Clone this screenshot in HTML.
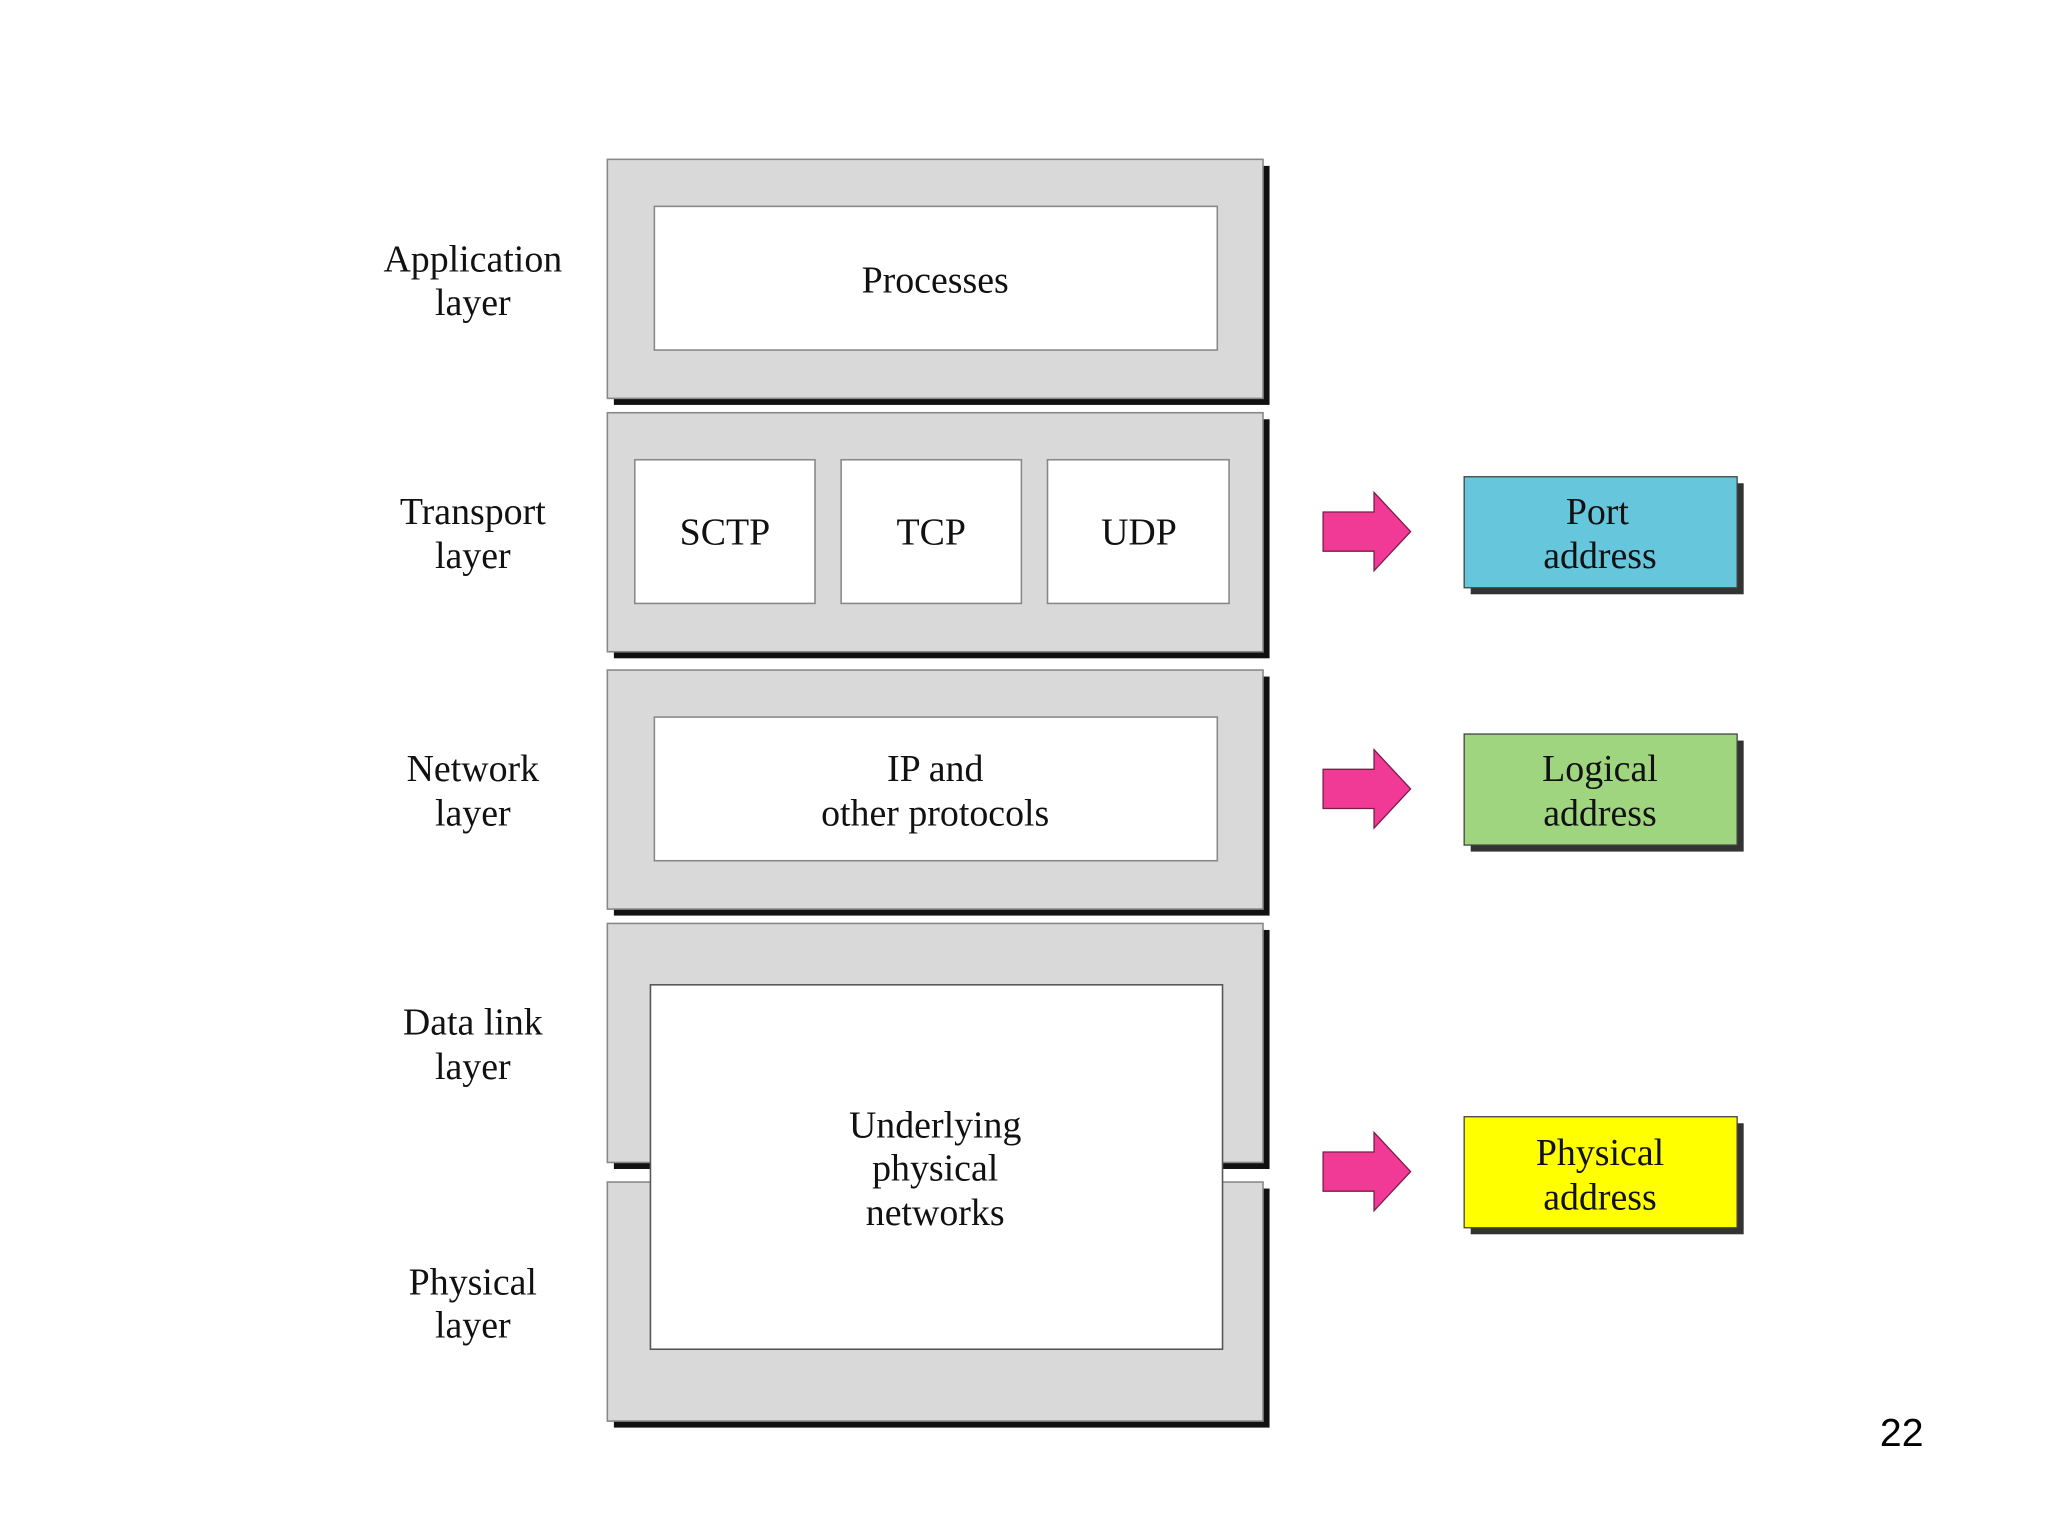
<!DOCTYPE html>
<html><head><meta charset="utf-8"><style>html,body{margin:0;padding:0;background:#fff}svg{display:block}</style></head>
<body>
<svg width="2048" height="1536" viewBox="0 0 1568 1176" xmlns="http://www.w3.org/2000/svg">
<defs>
<g id="arrow"><polygon points="0,-15 39,-15 39,-30 67,0 39,30 39,15 0,15" fill="#f03a96" stroke="#7a1d4a" stroke-width="1"/></g>
</defs>
<g stroke="#888" stroke-width="1.2">
<!-- shadows -->
<rect x="470" y="127" width="502" height="183" fill="#111" stroke="none"/>
<rect x="470" y="321" width="502" height="183" fill="#111" stroke="none"/>
<rect x="470" y="518" width="502" height="183" fill="#111" stroke="none"/>
<rect x="470" y="712" width="502" height="183" fill="#111" stroke="none"/>
<rect x="470" y="910" width="502" height="183" fill="#111" stroke="none"/>
<rect x="465" y="122" width="502" height="183" fill="#d9d9d9"/>
<rect x="465" y="316" width="502" height="183" fill="#d9d9d9"/>
<rect x="465" y="513" width="502" height="183" fill="#d9d9d9"/>
<rect x="465" y="707" width="502" height="183" fill="#d9d9d9"/>
<rect x="465" y="905" width="502" height="183" fill="#d9d9d9"/>
<rect x="501" y="158" width="431" height="110" fill="#fff"/>
<rect x="486" y="352" width="138" height="110" fill="#fff"/>
<rect x="644" y="352" width="138" height="110" fill="#fff"/>
<rect x="802" y="352" width="139" height="110" fill="#fff"/>
<rect x="501" y="549" width="431" height="110" fill="#fff"/>
<rect x="498" y="754" width="438" height="279" fill="#fff" stroke="#555"/>
</g>
<g font-family="Liberation Serif, serif" font-size="29" fill="#111" text-anchor="middle">
<text x="716" y="224">Processes</text>
<text x="555" y="417">SCTP</text>
<text x="713" y="417">TCP</text>
<text x="872" y="417">UDP</text>
<text x="716" y="598">IP and</text>
<text x="716" y="632">other protocols</text>
<text x="716" y="871">Underlying</text>
<text x="716" y="904">physical</text>
<text x="716" y="938">networks</text>
<text x="362" y="208">Application</text><text x="362" y="241">layer</text>
<text x="362" y="401">Transport</text><text x="362" y="435">layer</text>
<text x="362" y="598">Network</text><text x="362" y="632">layer</text>
<text x="362" y="792">Data link</text><text x="362" y="826">layer</text>
<text x="362" y="991">Physical</text><text x="362" y="1024">layer</text>
</g>
<use href="#arrow" x="1013" y="407"/>
<use href="#arrow" x="1013" y="604"/>
<use href="#arrow" x="1013" y="897"/>
<g stroke="#444" stroke-width="1">
<rect x="1126" y="370" width="209" height="85" fill="#333" stroke="none"/>
<rect x="1121" y="365" width="209" height="85" fill="#66c6dc"/>
<rect x="1126" y="567" width="209" height="85" fill="#333" stroke="none"/>
<rect x="1121" y="562" width="209" height="85" fill="#9ed57e"/>
<rect x="1126" y="860" width="209" height="85" fill="#333" stroke="none"/>
<rect x="1121" y="855" width="209" height="85" fill="#ffff00"/>
</g>
<g font-family="Liberation Serif, serif" font-size="29" fill="#111" text-anchor="middle">
<text x="1223" y="401">Port</text><text x="1225" y="435">address</text>
<text x="1225" y="598">Logical</text><text x="1225" y="632">address</text>
<text x="1225" y="892">Physical</text><text x="1225" y="926">address</text>
</g>
<text x="1456" y="1107" font-family="Liberation Sans, sans-serif" font-size="30" fill="#000" text-anchor="middle">22</text>
</svg>
</body></html>
